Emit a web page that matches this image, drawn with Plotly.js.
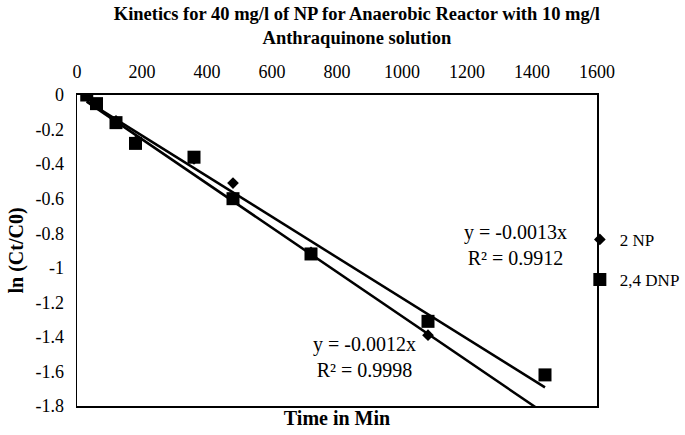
<!DOCTYPE html>
<html>
<head>
<meta charset="utf-8">
<script src="https://cdn.plot.ly/plotly-3.0.1.min.js"></script>
<style>html,body{margin:0;padding:0;background:#fff;}#chart{width:685px;height:435px;}</style>
</head>
<body>
<div id="chart"></div>
<script>
// Data
const timeMin = [30, 60, 120, 180, 360, 480, 720, 1080, 1440];
const np2 = [0, -0.05, -0.15, -0.27, -0.37, -0.51, -0.91, -1.39, -1.90];   // 2 NP (diamonds)
const dnp24 = [0, -0.05, -0.16, -0.28, -0.36, -0.60, -0.92, -1.31, -1.62]; // 2,4 DNP (squares)
const seriesNames = ['2 NP', '2,4 DNP'];
const eqUpper = ['y = -0.0013x', 'R² = 0.9912'];
const eqLower = ['y = -0.0012x', 'R² = 0.9998'];
const yTickVals = [0, -0.2, -0.4, -0.6, -0.8, -1, -1.2, -1.4, -1.6, -1.8];
const yTickText = ['0', '-0.2', '-0.4', '-0.6', '-0.8', '-1', '-1.2', '-1.4', '-1.6', '-1.8'];
const xTickVals = [0, 200, 400, 600, 800, 1000, 1200, 1400, 1600];

// Linear trendline through origin (least squares), spanning the data range
function originFit(xs, ys) {
  let sxy = 0, sxx = 0;
  for (let i = 0; i < xs.length; i++) { sxy += xs[i] * ys[i]; sxx += xs[i] * xs[i]; }
  const k = sxy / sxx;
  const xMin = Math.min(...xs), xMax = Math.max(...xs);
  return { x: [xMin, xMax], y: [k * xMin, k * xMax] };
}
const fitNP = originFit(timeMin, np2);
const fitDNP = originFit(timeMin, dnp24);

const serif = 'Liberation Serif, Times New Roman, serif';

const traces = [
  { x: fitNP.x, y: fitNP.y, mode: 'lines', line: { color: '#000', width: 2.5 }, showlegend: false, hoverinfo: 'skip' },
  { x: fitDNP.x, y: fitDNP.y, mode: 'lines', line: { color: '#000', width: 2.5 }, showlegend: false, hoverinfo: 'skip' },
  { x: timeMin, y: np2, name: seriesNames[0], mode: 'markers', legendgroup: 'a',
    marker: { symbol: 'diamond', size: 9, color: '#000' } },
  { x: timeMin, y: dnp24, name: seriesNames[1], mode: 'markers', legendgroup: 'b',
    marker: { symbol: 'square', size: 13, color: '#000' } }
];

const layout = {
  width: 685, height: 435,
  paper_bgcolor: '#fff', plot_bgcolor: '#fff',
  margin: { l: 77, r: 88, t: 95, b: 29, pad: 0, autoexpand: false },
  font: { family: serif, color: '#000', size: 18 },
  title: {
    text: '<b>Kinetics for 40 mg/l of NP for Anaerobic Reactor with 10 mg/l<br>Anthraquinone solution</b>',
    font: { family: serif, size: 18.5, color: '#000' },
    x: 0.521, xanchor: 'center', xref: 'container',
    y: 0.953, yanchor: 'top', yref: 'container', pad: { t: 0, b: 0 }
  },
  xaxis: {
    range: [0, 1600], side: 'bottom', showticklabels: false, ticks: '',
    showgrid: false, zeroline: false, showline: true, linecolor: '#000', linewidth: 1.5, mirror: true,
    title: { text: '<b>Time in Min</b>', font: { family: serif, size: 20, color: '#000' }, standoff: 4 }
  },
  xaxis2: {
    range: [0, 1600], overlaying: 'x', matches: 'x', side: 'top', anchor: 'y',
    tickvals: xTickVals, ticks: '', ticklabelstandoff: 8,
    tickfont: { family: serif, size: 18, color: '#000' },
    showgrid: false, zeroline: false, showline: true, linecolor: '#000', linewidth: 2
  },
  yaxis: {
    range: [-1.8, 0], tickvals: yTickVals, ticktext: yTickText, ticks: '', ticklabelstandoff: 8,
    tickfont: { family: serif, size: 18, color: '#000' },
    showgrid: false, zeroline: false, showline: true, linecolor: '#000', linewidth: 1.5, mirror: true,
    title: { text: '<b>ln (Ct/C0)</b>', font: { family: serif, size: 20, color: '#000' }, standoff: 6 }
  },
  legend: {
    x: 0.967, xanchor: 'left', y: 0.47, yanchor: 'middle',
    font: { family: serif, size: 17, color: '#000' },
    tracegroupgap: 15, bgcolor: 'rgba(0,0,0,0)', itemwidth: 30
  },
  annotations: [
    { xref: 'x', yref: 'y', x: 1348, y: -0.868, text: eqUpper.join('<br>'), showarrow: false,
      font: { family: serif, size: 20, color: '#000' }, align: 'center' },
    { xref: 'x', yref: 'y', x: 886, y: -1.516, text: eqLower.join('<br>'), showarrow: false,
      font: { family: serif, size: 20, color: '#000' }, align: 'center' }
  ],
  showlegend: true
};

// empty trace on the top axis so it is drawn
traces.push({ x: [], y: [], xaxis: 'x2', yaxis: 'y', showlegend: false, hoverinfo: 'skip' });

Plotly.newPlot('chart', traces, layout, { displayModeBar: false, staticPlot: true });
</script>
</body>
</html>
